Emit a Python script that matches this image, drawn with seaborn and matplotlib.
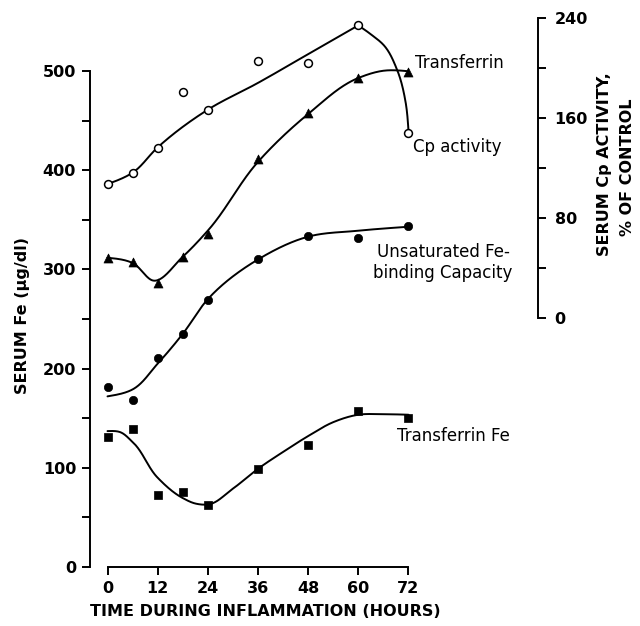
import numpy as np
import pandas as pd
import matplotlib
matplotlib.use("Agg")
import matplotlib.pyplot as plt
import seaborn as sns

# ---- data ----
hours = [0, 6, 12, 18, 24, 36, 48, 60, 72]
transferrin = [386, 397, 422, 479, 461, 510, 508, 546, 438]
cp_activity = [47.8, 44.2, 27.4, 48.6, 66.6, 126.6, 163.4, 191.8, 196.6]
unsat_fe_binding = [181, 168, 211, 235, 269, 310, 334, 332, 344]
transferrin_fe = [131, 139, 73, 76, 63, 99, 123, 157, 150]

# knots of the hand-drawn smooth curves
tf_curve_a_h = [0, 6, 12, 24, 36, 48, 60]
tf_curve_a_v = [386, 397.5, 423, 461, 488, 517, 546]
tf_curve_b_h = [60, 63, 66.1, 69.3, 71.3, 72]
tf_curve_b_v = [546, 537, 526, 501, 469, 440]
cp_curve_h = [0, 6, 11, 18, 24, 36, 48, 60, 66, 72]
cp_curve_v = [47.8, 43.6, 29.5, 48.6, 69.5, 124.5, 162.8, 191.6, 197.4, 197.0]
ufb_curve_h = [0, 6, 12, 18, 24, 36, 48, 60, 72]
ufb_curve_v = [172, 179, 205, 235, 270, 310, 333, 339, 343]
tfe_curve_h = [0, 3, 6, 12, 18, 21, 24, 30, 36, 42, 48, 54, 60, 66, 72]
tfe_curve_v = [137, 136, 126, 90, 69.5, 64, 63, 79, 99, 116, 132, 146, 153.5, 154, 153.5]

left_ticks = [0, 100, 200, 300, 400, 500]
right_ticks = [0, 80, 160, 240]
x_ticks = [0, 12, 24, 36, 48, 60, 72]


def smooth_path(px, py, per_seg=60):
    """Parametric cubic Hermite (Bessel tangents, chord-length parameter)."""
    P = np.column_stack([px, py]).astype(float)
    n = len(P)
    h = np.hypot(*np.diff(P, axis=0).T)
    d = np.diff(P, axis=0) / h[:, None]
    m = np.zeros_like(P)
    for i in range(1, n - 1):
        m[i] = (h[i] * d[i - 1] + h[i - 1] * d[i]) / (h[i - 1] + h[i])
    if n > 2:
        m[0] = (3 * d[0] - m[1]) / 2
        m[-1] = (3 * d[-1] - m[-2]) / 2
    else:
        m[0] = m[-1] = d[0]
    out = []
    s = np.linspace(0, 1, per_seg)
    for i in range(n - 1):
        h00 = 2 * s**3 - 3 * s**2 + 1
        h10 = s**3 - 2 * s**2 + s
        h01 = -2 * s**3 + 3 * s**2
        h11 = s**3 - s**2
        seg = (h00[:, None] * P[i] + h10[:, None] * h[i] * m[i]
               + h01[:, None] * P[i + 1] + h11[:, None] * h[i] * m[i + 1])
        out.append(seg if i == 0 else seg[1:])
    return np.vstack(out)


def curve_df(hh, vv, sx, sy):
    pts = smooth_path(np.asarray(hh, float) * sx, np.asarray(vv, float) * sy)
    return pd.DataFrame({"h": pts[:, 0] / sx, "v": pts[:, 1] / sy})


sns.set_style("ticks")
plt.rcParams["font.family"] = ["DejaVu Sans"]
plt.rcParams["text.color"] = "black"
plt.rcParams["xtick.color"] = "black"
plt.rcParams["ytick.color"] = "black"
plt.rcParams["xtick.labelcolor"] = "black"
plt.rcParams["ytick.labelcolor"] = "black"

W, H = 640, 626
fig = plt.figure(figsize=(W / 100, H / 100), dpi=100)

# axes box in pixels
ax_left_px, ax_right_px = 90, 538
ax_top_px, ax_bottom_px = 8, 567
ax = fig.add_axes([ax_left_px / W, 1 - ax_bottom_px / H,
                   (ax_right_px - ax_left_px) / W, (ax_bottom_px - ax_top_px) / H])
ax2 = ax.twinx()

# scale calibration
x0_px, px_per_h = 107.5, 4.18
ax.set_xlim((ax_left_px - x0_px) / px_per_h, (ax_right_px - x0_px) / px_per_h)
left_px_per_unit = 0.992
ax.set_ylim(0, (ax_bottom_px - ax_top_px) / left_px_per_unit)
r0_px, right_px_per_unit = 317.5, 1.25
ax2.set_ylim(-(ax_bottom_px - r0_px) / right_px_per_unit, (r0_px - ax_top_px) / right_px_per_unit)

lw = 1.4
# curves
for hh, vv, a, sy in [(tf_curve_a_h, tf_curve_a_v, ax, left_px_per_unit),
                      (tf_curve_b_h, tf_curve_b_v, ax, left_px_per_unit),
                      (ufb_curve_h, ufb_curve_v, ax, left_px_per_unit),
                      (tfe_curve_h, tfe_curve_v, ax, left_px_per_unit),
                      (cp_curve_h, cp_curve_v, ax2, right_px_per_unit)]:
    df = curve_df(hh, vv, px_per_h, sy)
    sns.lineplot(data=df, x="h", y="v", ax=a, color="black", lw=lw, sort=False,
                 estimator=None, zorder=2)

# points
sns.scatterplot(x=hours, y=transferrin, ax=ax, marker="o", s=32, facecolor="white",
                edgecolor="black", linewidth=1.1, zorder=3)
sns.scatterplot(x=hours, y=unsat_fe_binding, ax=ax, marker="o", s=36, color="black",
                edgecolor="black", linewidth=0.5, zorder=3)
sns.scatterplot(x=hours, y=transferrin_fe, ax=ax, marker="s", s=38, color="black",
                edgecolor="black", linewidth=0.5, zorder=3)
sns.scatterplot(x=hours, y=cp_activity, ax=ax2, marker="^", s=42, color="black",
                edgecolor="black", linewidth=0.5, zorder=3)

# spines
for s in ["top", "right"]:
    ax.spines[s].set_visible(False)
for s in ["top", "left", "bottom"]:
    ax2.spines[s].set_visible(False)
ax.spines["left"].set_bounds(0, 500)
ax.spines["bottom"].set_bounds(0, 72)
ax2.spines["right"].set_bounds(0, 240)
for sp in [ax.spines["left"], ax.spines["bottom"], ax2.spines["right"]]:
    sp.set_linewidth(1.4)
    sp.set_color("black")

tick_font = dict(fontsize=11.5, fontweight="bold", color="black")
ax.set_xticks(x_ticks)
ax.set_xticklabels([str(t) for t in x_ticks], **tick_font)
ax.set_yticks(left_ticks)
ax.set_yticklabels([str(t) for t in left_ticks], **tick_font)
ax.set_yticks(np.array(left_ticks[:-1]) + 50, minor=True)
ax2.set_yticks(right_ticks)
ax2.set_yticklabels([str(t) for t in right_ticks], **tick_font)
ax2.set_yticks(np.array(right_ticks[:-1]) + 40, minor=True)
for a in (ax, ax2):
    a.tick_params(which="both", length=6, width=1.4, color="black", direction="out")
ax.tick_params(axis="y", pad=4)
ax.tick_params(axis="x", pad=4)
ax2.tick_params(axis="y", pad=6)
ax.set_xlabel("")
ax.set_ylabel("")
ax2.set_ylabel("")


def ftext(x, y, s, **kw):
    fig.text(x / W, 1 - y / H, s, **kw)


lab = dict(fontsize=12, color="black")
ftext(415, 63, "Transferrin", ha="left", va="center", **lab)
ftext(413, 147, "Cp activity", ha="left", va="center", **lab)
ftext(510, 252, "Unsaturated Fe-", ha="right", va="center", **lab)
ftext(512, 273, "binding Capacity", ha="right", va="center", **lab)
ftext(510, 436, "Transferrin Fe", ha="right", va="center", **lab)

ttl = dict(fontsize=11.5, fontweight="bold", color="black")
ftext(23, 316, "SERUM Fe (\u00b5g/dl)", ha="center", va="center", rotation=90, **ttl)
ftext(265, 612, "TIME DURING INFLAMMATION (HOURS)", ha="center", va="center", **ttl)
ftext(605, 164, "SERUM Cp ACTIVITY,", ha="center", va="center", rotation=90, **ttl)
ftext(627, 167, "% OF CONTROL", ha="center", va="center", rotation=90, **ttl)

fig.savefig("out.png", dpi=100, facecolor="white")
